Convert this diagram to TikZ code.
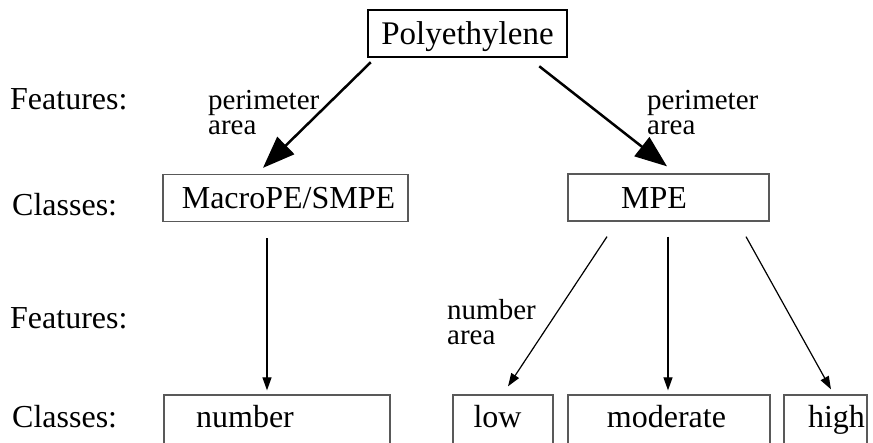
\documentclass[tikz,border=0pt]{standalone}
\usepackage{fontspec}
\setmainfont{Liberation Serif}
\usetikzlibrary{arrows.meta}

\tikzset{
    rowlabel/.style={anchor=base west, inner sep=0pt, font=\fontsize{32}{32}\selectfont},
    featlabel/.style={anchor=base west, inner sep=0pt, align=left, font=\fontsize{29}{22}\selectfont},
    rootbox/.style={draw, line width=2.5pt, inner sep=0pt, minimum width=199pt, minimum height=47pt,
        text height=21pt, text depth=0pt, font=\fontsize{33}{33}\selectfont},
    classbox/.style={draw=black!65, line width=1.3pt, inner sep=0pt, minimum height=47pt,
        text height=21pt, text depth=0pt, font=\fontsize{32}{32}\selectfont},
    leafbox/.style={classbox, minimum height=52pt, text height=12pt},
    bigarrow/.style={-{Triangle[length=32pt,width=24pt]}, line width=2.5pt},
    thinarrow/.style={-{Triangle[length=13pt,width=9pt]}, line width=1.2pt}
}

\begin{document}
\begin{tikzpicture}[x=1pt,y=-1pt]
    \useasboundingbox (0,0) rectangle (873,442);

    % Row labels
    \node[rowlabel] (feat1) at (10,109) {Features:};
    \node[rowlabel] (cls1) at (12,215) {Classes:};
    \node[rowlabel] (feat2) at (10,328) {Features:};
    \node[rowlabel] (cls2) at (12,427) {Classes:};

    % Root and first level classes
    \node[rootbox] (poly) at (467.5,33.5) {Polyethylene};
    \node[classbox, minimum width=245pt] (macro) at (285.5,198) {\hspace*{6pt}MacroPE/SMPE};
    \node[classbox, minimum width=201pt] (mpe) at (668.5,197.5) {MPE\hspace*{29pt}};

    % Second level classes (bottom edge runs off the page)
    \node[leafbox, minimum width=226pt] (number) at (277,421) {number\hspace*{64pt}};
    \node[leafbox, minimum width=100pt] (low) at (503,421) {low\hspace*{11pt}};
    \node[leafbox, minimum width=202pt] (moderate) at (669,421) {moderate\hspace*{5pt}};
    \node[leafbox, minimum width=83pt] (high) at (825.5,421) {\hspace*{22pt}high};

    % Features used for each split
    \node[featlabel] (feat-l) at (208,134) {perimeter\\[3pt]area};
    \node[featlabel] (feat-r) at (647,134) {perimeter\\[3pt]area};
    \node[featlabel] (feat-m) at (447,344) {number\\[3pt]area};

    % Splits
    \draw[bigarrow] ([shift={(4,4)}]poly.south west) -- ([shift={(-22.5,-6)}]macro.north);
    \draw[bigarrow] ([shift={(-29,8)}]poly.south east) -- ([shift={(-1.5,-7)}]mpe.north);
    \draw[thinarrow] ([shift={(-18.5,16)}]macro.south) -- ([shift={(-10,-4)}]number.north);
    \draw[thinarrow] ([shift={(-61.5,15)}]mpe.south) -- ([shift={(5,-8)}]low.north);
    \draw[thinarrow] ([shift={(-0.5,15)}]mpe.south) -- ([shift={(-1,-4)}]moderate.north);
    \draw[thinarrow] ([shift={(77.5,15)}]mpe.south) -- ([shift={(5.5,-5)}]high.north);
\end{tikzpicture}
\end{document}
